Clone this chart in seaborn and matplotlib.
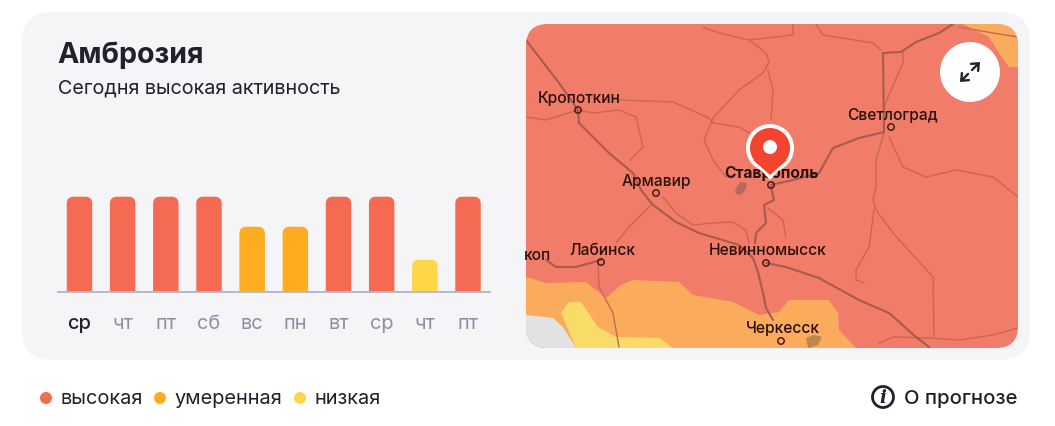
import matplotlib
matplotlib.use("Agg")
import matplotlib.pyplot as plt
import pandas as pd
import seaborn as sns
from matplotlib.patches import Circle, FancyBboxPatch, Polygon

# chart data
days = ["ср", "чт", "пт", "сб", "вс", "пн", "вт", "ср", "чт", "пт"]
activity = [95, 95, 95, 95, 65, 65, 95, 95, 32, 95]
levels = ["высокая", "высокая", "высокая", "высокая", "умеренная", "умеренная",
          "высокая", "высокая", "низкая", "высокая"]
level_names = ["высокая", "умеренная", "низкая"]
level_colors = ["#f56a52", "#ffad20", "#ffd647"]

TEXT = "#20212b"
GREY = "#8d90a3"
ROAD = "#a85a4c"
THIN = "#cb6653"

# map decoration, in picture pixels
orange_area = [(526, 277), (546, 283), (586, 282), (606, 298), (621, 285), (633, 280), (679, 282),
               (693, 295), (733, 302), (759, 315), (779, 312), (789, 300), (829, 300), (838, 313),
               (839, 330), (856, 348), (526, 348)]
corner_area = [(963, 24), (989, 37), (999, 53), (1009, 67), (1018, 67), (1018, 24)]
yellow_area = [(561, 313), (569, 302), (581, 302), (598, 327), (616, 337), (659, 338), (673, 348), (576, 348)]
grey_area = [(526, 315), (553, 318), (563, 327), (576, 348), (526, 348)]
stavropol_blob = [(735, 190), (740, 182), (747, 183), (746, 189), (741, 195), (736, 194)]
cherkessk_blob = [(806, 338), (814, 335), (822, 337), (818, 345), (808, 348)]

main_roads = [
    [(526, 40), (559, 83), (578, 110), (579, 123), (609, 153), (633, 173), (641, 190), (653, 205), (676, 222),
     (699, 233), (739, 245), (753, 258), (758, 272), (763, 293), (766, 308), (773, 320)],
    [(766, 263), (786, 267), (819, 278), (859, 300), (889, 313), (916, 337), (929, 347)],
    [(771, 185), (793, 180), (819, 173), (833, 148), (859, 138), (884, 132), (883, 53), (901, 52), (916, 42),
     (939, 33), (953, 24)],
    [(771, 187), (774, 200), (764, 205), (766, 223), (756, 233), (755, 243)],
    [(546, 260), (556, 267), (576, 267), (601, 260)],
]
minor_roads = [
    [(703, 27), (719, 33), (749, 40), (766, 53), (769, 62), (763, 73), (739, 90), (713, 118), (704, 140), (713, 160),
     (726, 177)],
    [(768, 70), (773, 90), (771, 120)],
    [(526, 117), (546, 120), (578, 110), (593, 113), (619, 110), (636, 117), (643, 147), (630, 160)],
    [(619, 100), (673, 102), (709, 118), (713, 123), (739, 127), (753, 135)],
    [(616, 243), (629, 227), (651, 205)],
    [(598, 263), (599, 287), (613, 313), (619, 347)],
    [(663, 197), (676, 213), (693, 225), (713, 223), (733, 222), (746, 230), (749, 243)],
    [(768, 208), (783, 220), (786, 238)],
    [(884, 133), (876, 160), (876, 187), (873, 200), (876, 210), (893, 233), (933, 277), (934, 337)],
    [(874, 210), (869, 247), (856, 270), (856, 280), (864, 283)],
    [(889, 137), (903, 167), (926, 177), (956, 170), (993, 177), (1018, 197)],
    [(879, 343), (893, 337), (929, 338), (959, 340), (993, 335), (1018, 328)],
    [(816, 24), (823, 35), (873, 43), (881, 50)],
    [(793, 24), (793, 35), (749, 40)],
    [(903, 52), (903, 63), (888, 97), (884, 107)],
    [(959, 27), (993, 33), (1018, 37)],
]
cities = ["Кропоткин", "Светлоград", "Армавир", "Лабинск", "Невинномысск", "Черкесск", "коп"]
city_x = [538, 847, 622, 569, 709, 746, 524]
city_y = [103, 120, 186, 255, 255, 333, 260]
dot_x = [578, 891, 656, 601, 766, 781]
dot_y = [110, 127, 193, 262, 263, 341]

sns.set_theme(style="white")
plt.rcParams["font.family"] = ["Inter", "DejaVu Sans"]

fig = plt.figure(figsize=(10.55, 4.26), dpi=100, facecolor="white")

# background layer in pixels
bg = fig.add_axes([0, 0, 1, 1], zorder=0)
bg.set_xlim(0, 1055)
bg.set_ylim(426, 0)
bg.axis("off")

bg.add_patch(FancyBboxPatch((22, 12), 1008, 348, boxstyle="round,pad=0,rounding_size=30",
                            fc="#f5f5f8", ec="none"))

map_clip = FancyBboxPatch((526, 24), 492, 324, boxstyle="round,pad=0,rounding_size=22",
                          fc="#f27c6a", ec="none", zorder=1)
bg.add_patch(map_clip)

for area, color in [(orange_area, "#fbab5c"), (corner_area, "#fbab5c"), (yellow_area, "#f9dc68"), (grey_area, "#e2e2e4")]:
    shape = Polygon(area, fc=color, ec="none", zorder=2)
    bg.add_patch(shape)
    shape.set_clip_path(map_clip)

bg.add_patch(Polygon(stavropol_blob, fc="#b9695c", ec="none", zorder=3))
bg.add_patch(Polygon(cherkessk_blob, fc="#bd8748", ec="none", zorder=3))

for road in minor_roads:
    xs, ys = zip(*road)
    line, = bg.plot(xs, ys, color=THIN, lw=1.0, zorder=3, solid_joinstyle="round")
    line.set_clip_path(map_clip)
for road in main_roads:
    xs, ys = zip(*road)
    line, = bg.plot(xs, ys, color=ROAD, lw=1.5, zorder=3, solid_joinstyle="round")
    line.set_clip_path(map_clip)

for x, y in zip(dot_x, dot_y):
    bg.add_patch(Circle((x, y), 3.2, fc="none", ec="#4a1c14", lw=1.1, zorder=4))
bg.add_patch(Circle((771, 185), 3.2, fc="none", ec="#4a1c14", lw=1.1, zorder=4))

for name, x, y in zip(cities, city_x, city_y):
    bg.text(x, y, name, fontsize=11.2, fontweight="medium", color="#2a0f0a", ha="left", va="baseline", zorder=5)
bg.text(724, 178, "Ставрополь", fontsize=11.2, fontweight="bold", color="#2a0f0a", zorder=5)

# pin
bg.add_patch(Polygon([(749, 157), (770, 180), (791, 157)], fc="white", ec="none", zorder=6))
bg.add_patch(Circle((770, 148), 24, fc="white", ec="none", zorder=6))
bg.add_patch(Polygon([(753, 160), (770, 175), (787, 160)], fc="#f4432f", ec="none", zorder=6))
bg.add_patch(Circle((770, 148), 20, fc="#f4432f", ec="none", zorder=6))
bg.add_patch(Circle((770, 147), 7, fc="white", ec="none", zorder=7))

# expand button
bg.add_patch(Circle((970, 72), 30, fc="white", ec="none", zorder=6))
bg.annotate("", xy=(980, 62), xytext=(972, 70), zorder=7,
            arrowprops=dict(arrowstyle="->,head_length=0.35,head_width=0.3", color="#20212b", lw=1.7,
                            shrinkA=0, shrinkB=0))
bg.annotate("", xy=(960, 82), xytext=(968, 74), zorder=7,
            arrowprops=dict(arrowstyle="->,head_length=0.35,head_width=0.3", color="#20212b", lw=1.7,
                            shrinkA=0, shrinkB=0))

# titles
bg.text(57.5, 63, "Амброзия", fontsize=20.6, fontweight="bold", color=TEXT)
bg.text(58, 94, "Сегодня высокая активность", fontsize=14.2, color=TEXT)

# legend under the card
legend_dot_x = [46, 160, 300]
legend_text_x = [61, 174, 315]
for name, color, dx, tx in zip(level_names, level_colors, legend_dot_x, legend_text_x):
    bg.add_patch(Circle((dx, 398), 6, fc=color, ec="none"))
    bg.text(tx, 404, name, fontsize=14.4, color=TEXT)

bg.add_patch(Circle((883, 397), 10.5, fc="none", ec=TEXT, lw=2))
bg.text(883, 398, "i", fontsize=13, fontweight="bold", fontstyle="italic", family=["DejaVu Serif"],
        color=TEXT, ha="center", va="center")
bg.text(904, 404, "О прогнозе", fontsize=14.6, fontweight="medium", color=TEXT)

# bar chart
ax = fig.add_axes([57.9 / 1055, (426 - 291.7) / 426, 431.7 / 1055, 100 / 426], zorder=1)
ax.patch.set_alpha(0)
df = pd.DataFrame({"pos": range(len(days)), "activity": activity, "level": levels})
sns.barplot(data=df, x="pos", y="activity", hue="level", hue_order=level_names, palette=level_colors,
            dodge=False, width=0.59, saturation=1, legend=False, ax=ax)
ax.set_xlim(-0.5, 9.5)
ax.set_ylim(0, 100)
ax.set_xlabel("")
ax.set_ylabel("")
ax.set_yticks([])
ax.set_xticks(range(len(days)))
ax.set_xticklabels(days, fontsize=14.4, color=GREY)
ax.get_xticklabels()[0].set_color(TEXT)
ax.get_xticklabels()[0].set_fontweight("medium")
ax.tick_params(axis="x", length=0, pad=17)
sns.despine(ax=ax, left=True)
ax.spines["bottom"].set_color("#b5b9c9")
ax.spines["bottom"].set_linewidth(1.4)

# round the top corners of the bars
for bar in list(ax.patches):
    if bar.get_height() > 0:
        rounded = FancyBboxPatch((bar.get_x(), -20), bar.get_width(), bar.get_height() + 20,
                                 boxstyle="round,pad=0,rounding_size=0.16", mutation_aspect=43.2,
                                 fc=bar.get_facecolor(), ec="none")
        ax.add_patch(rounded)
        bar.set_visible(False)

fig.savefig("out.png", dpi=100)
